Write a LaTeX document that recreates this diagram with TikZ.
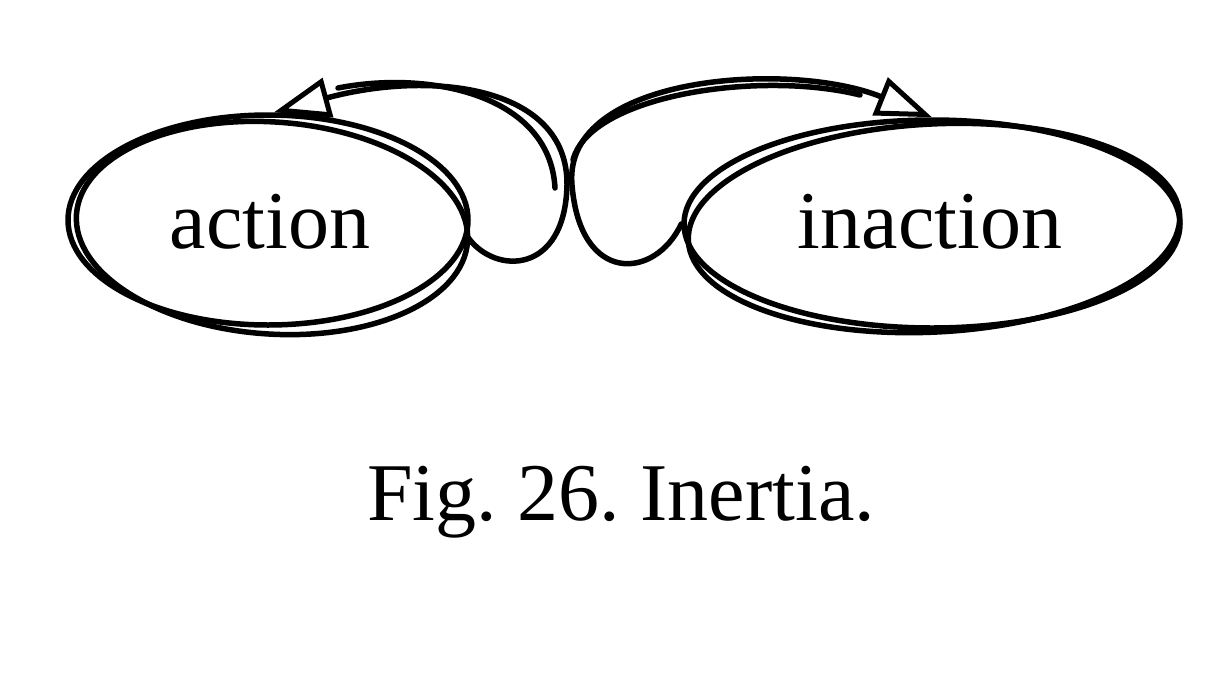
\documentclass[tikz,border=0pt]{standalone}
\usepackage{fontspec}
\setmainfont{Liberation Serif}
\usetikzlibrary{shapes.geometric,arrows.meta}
\tikzset{
  stroke/.style={line width=5.5pt, line cap=round, line join=round},
  blob/.style={stroke, draw, ellipse, inner sep=0pt},
  bigtext/.style={font=\fontsize{82}{90}\selectfont},
  tri/.style={-{Triangle[open,length=56pt,width=40pt,line width=5pt]}},
}
\begin{document}
\frenchspacing
\begin{tikzpicture}[x=1pt,y=-1pt]
\useasboundingbox (0,0) rectangle (1230,680);
% nodes
\node[blob, minimum width=400pt, minimum height=210pt] (act) at (268,220) {};
\node[blob, minimum width=496pt, minimum height=208pt] (inact) at (932,224) {};
% sketchy second strokes
\draw[stroke] (272,228) ellipse [x radius=196, y radius=106, rotate=-4];
\draw[stroke] (934,228) ellipse [x radius=246, y radius=104, rotate=3];
% labels
\node[bigtext, anchor=base] (tact) at (270,248) {action};
\node[bigtext, anchor=base] (tinact) at (930,248) {inaction};
\node[bigtext, anchor=base] (cap) at (621,520) {Fig. 26. Inertia.};
% connectors
\coordinate (a1) at (555,188);
\coordinate (b1) at (573,160);
\draw[stroke, tri] (act.-5) .. controls (495,275) and (565,275) .. (567,185)
   .. controls (568,85) and (430,70) .. ([xshift=6pt]act.north);
\draw[stroke] (a1) .. controls (550,95) and (430,70) .. (338,88);
\draw[stroke, tri] (inact.west) .. controls (655,280) and (580,285) .. (572,185)
   .. controls (562,75) and (790,60) .. (inact.north);
\draw[stroke] (b1) .. controls (590,95) and (760,70) .. (860,95);
\end{tikzpicture}
\end{document}
